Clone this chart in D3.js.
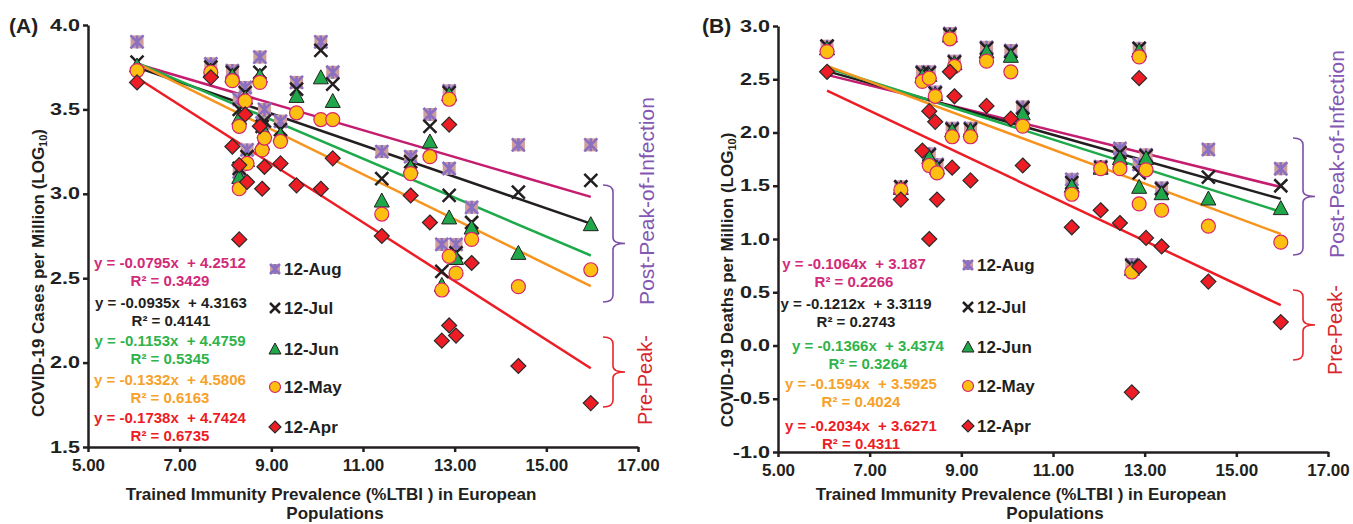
<!DOCTYPE html>
<html>
<head>
<meta charset="utf-8">
<script src="https://cdn.jsdelivr.net/npm/d3@7/dist/d3.min.js"></script>
<style>
  body { margin: 0; background: #fff; }
  svg { font-family: "Liberation Sans", Arial, sans-serif; }
  .pre { white-space: pre; }
</style>
</head>
<body>
<svg id="chart" width="1353" height="524"></svg>
<script>
// LTBI prevalence (x) for each country, same order in both panels
const ltbi = [6.07, 7.68, 8.15, 8.30, 8.30, 8.43, 8.47, 8.75, 8.80, 8.85, 9.20, 9.55,
              10.08, 10.34, 11.41, 12.04, 12.46, 12.72, 12.88, 12.88, 13.03, 13.37, 14.39, 15.97];

const months = ["12-Aug", "12-Jul", "12-Jun", "12-May", "12-Apr"];

// (A) cases per million, log10
const casesAug = [3.90,3.77,3.73,3.56,3.13,3.63,3.26,3.81,3.42,3.50,3.43,3.66,3.90,3.72,3.25,3.22,3.47,2.70,3.61,3.15,2.70,2.92,3.29,3.29];
const casesJul = [3.78,3.75,3.72,3.50,3.15,3.60,3.22,3.72,3.40,3.43,3.38,3.62,3.85,3.65,3.09,3.19,3.40,2.54,3.60,2.99,2.65,2.83,3.01,3.08];
const casesJun = [3.76,3.73,3.70,3.45,3.10,3.57,3.20,3.70,3.30,3.37,3.35,3.58,3.69,3.55,2.96,3.16,3.31,2.46,3.59,2.86,2.62,2.80,2.65,2.82];
const casesMay = [3.73,3.72,3.67,3.40,3.03,3.55,3.18,3.66,3.26,3.33,3.31,3.48,3.44,3.44,2.88,3.12,3.22,2.43,3.56,2.63,2.53,2.73,2.45,2.55];
const casesApr = [3.66,3.69,3.28,3.17,2.73,3.47,3.07,3.40,3.03,3.16,3.18,3.05,3.03,3.21,2.75,2.99,2.83,2.13,3.41,2.22,2.16,2.59,1.98,1.76];

// (B) deaths per million, log10
const deathsAug = [2.81,1.49,2.57,2.57,1.80,2.38,1.70,2.93,2.04,2.67,2.04,2.80,2.77,2.24,1.56,1.68,1.85,0.76,2.79,1.70,1.79,1.48,1.84,1.66];
const deathsJul = [2.81,1.49,2.56,2.56,1.79,2.37,1.69,2.92,2.03,2.66,2.03,2.79,2.76,2.23,1.53,1.67,1.81,0.75,2.79,1.62,1.78,1.47,1.58,1.50];
const deathsJun = [2.79,1.48,2.53,2.54,1.77,2.36,1.67,2.91,2.02,2.65,2.02,2.76,2.72,2.18,1.50,1.67,1.76,0.72,2.77,1.49,1.76,1.43,1.38,1.29];
const deathsMay = [2.76,1.46,2.48,2.51,1.69,2.34,1.62,2.88,1.96,2.62,1.96,2.67,2.57,2.06,1.42,1.66,1.66,0.69,2.71,1.33,1.65,1.27,1.12,0.97];
const deathsApr = [2.57,1.37,1.83,2.20,1.00,2.10,1.37,2.57,1.67,2.34,1.55,2.25,2.13,1.69,1.11,1.27,1.15,-0.44,2.51,0.74,1.01,0.93,0.60,0.22];

// linear trendlines as printed on the chart
const slopesA = [-0.0795, -0.0935, -0.1153, -0.1332, -0.1738];
const interceptsA = [4.2512, 4.3163, 4.4759, 4.5806, 4.7424];
const r2A = [0.3429, 0.4141, 0.5345, 0.6163, 0.6735];
const slopesB = [-0.1064, -0.1212, -0.1366, -0.1594, -0.2034];
const interceptsB = [3.187, 3.3119, 3.4374, 3.5925, 3.6271];
const r2B = [0.2266, 0.2743, 0.3264, 0.4024, 0.4311];

const xTicks = [5, 7, 9, 11, 13, 15, 17];
const yTicksA = [1.5, 2.0, 2.5, 3.0, 3.5, 4.0];
const yTicksB = [-1.0, -0.5, 0.0, 0.5, 1.0, 1.5, 2.0, 2.5, 3.0];

const lineColors = ["#c41d6f", "#231f20", "#1eaa4b", "#f7941d", "#ee1c25"];
const textColors = ["#d12a78", "#231f20", "#2fb34a", "#f7a12a", "#ed1c24"];
const markerTypes = ["star", "cross", "tri", "circle", "diamond"];

const svg = d3.select("#chart");

function drawMarker(g, type, cx, cy, s) {
  const h = s / 2;
  if (type == "star") {
    g.append("rect").attr("x", cx - h).attr("y", cy - h).attr("width", s).attr("height", s)
      .attr("fill", "#cf9d9b");
    const path = `M${cx-h},${cy-h}L${cx+h},${cy+h}M${cx+h},${cy-h}L${cx-h},${cy+h}M${cx},${cy-h}L${cx},${cy+h}`;
    g.append("path").attr("d", path).attr("stroke", "#8a70c2").attr("stroke-width", 2.6).attr("fill", "none");
  } else if (type == "cross") {
    const path = `M${cx-h},${cy-h}L${cx+h},${cy+h}M${cx+h},${cy-h}L${cx-h},${cy+h}`;
    g.append("path").attr("d", path).attr("stroke", "#231f20").attr("stroke-width", 2.5).attr("fill", "none");
  } else if (type == "tri") {
    const path = `M${cx},${cy-h-1}L${cx+h+1},${cy+h}L${cx-h-1},${cy+h}Z`;
    g.append("path").attr("d", path).attr("fill", "#1fa74a").attr("stroke", "#231f20").attr("stroke-width", 1);
  } else if (type == "circle") {
    g.append("circle").attr("cx", cx).attr("cy", cy).attr("r", h + 0.5)
      .attr("fill", "#fdc010").attr("stroke", "#d6246e").attr("stroke-width", 1.2);
  } else {
    const path = `M${cx},${cy-h-1}L${cx+h+1},${cy}L${cx},${cy+h+1}L${cx-h-1},${cy}Z`;
    g.append("path").attr("d", path).attr("fill", "#ee1c25").attr("stroke", "#2b2b2b").attr("stroke-width", 1.2);
  }
}

function brace(x0, y0, y1) {
  const xm = x0 + 10, xt = x0 + 22, mid = (y0 + y1) / 2;
  return `M${x0},${y0}Q${xm},${y0} ${xm},${y0+7}L${xm},${mid-6}Q${xm},${mid} ${xt},${mid}` +
         `Q${xm},${mid} ${xm},${mid+6}L${xm},${y1-7}Q${xm},${y1} ${x0},${y1}`;
}

function panel(opt) {
  const x = d3.scaleLinear().domain([5, 17]).range(opt.xRange);
  const y = d3.scaleLinear().domain(opt.yDomain).range(opt.yRange);
  const g = svg.append("g");

  // axes
  const ya = g.append("g").attr("transform", `translate(${opt.xRange[0]},0)`)
    .call(d3.axisLeft(y).tickValues(opt.yTicks).tickSize(5).tickSizeOuter(0).tickFormat(d => d.toFixed(1)));
  ya.selectAll("text").attr("x", 0)
    .attr("transform", "translate(-8,0) scale(1.35,1)")
    .style("font-size", "16px").style("font-weight", "bold").attr("fill", "#231f20");
  const xa = g.append("g").attr("transform", `translate(0,${opt.yRange[0]})`)
    .call(d3.axisBottom(x).tickValues(xTicks).tickSize(5).tickSizeOuter(0).tickFormat(d => d.toFixed(2)));
  xa.selectAll("text").attr("y", 12)
    .style("font-size", "17px").style("font-weight", "bold").attr("fill", "#231f20");
  g.selectAll(".domain, .tick line").attr("stroke", "#231f20").attr("stroke-width", 2.5);

  // trendlines
  const xmin = d3.min(ltbi), xmax = d3.max(ltbi);
  opt.slopes.forEach((m, i) => {
    g.append("line")
      .attr("x1", x(xmin)).attr("y1", y(m * xmin + opt.intercepts[i]))
      .attr("x2", x(xmax)).attr("y2", y(m * xmax + opt.intercepts[i]))
      .attr("stroke", lineColors[i]).attr("stroke-width", 2.5);
  });

  // points
  opt.series.forEach((vals, i) => {
    const sg = g.append("g");
    vals.forEach((v, j) => drawMarker(sg, markerTypes[i], x(ltbi[j]), y(v), 13));
  });

  // equations
  opt.slopes.forEach((m, i) => {
    g.append("text").attr("class", "pre")
      .attr("x", opt.eqX[i]).attr("y", opt.eqY[i]).attr("text-anchor", "middle")
      .attr("dominant-baseline", "central")
      .style("font-size", "15px").style("font-weight", "bold").attr("fill", textColors[i])
      .text(`y = ${m}x  + ${opt.intercepts[i]}`);
    g.append("text")
      .attr("x", opt.eqX[i]).attr("y", opt.eqY[i] + 18).attr("text-anchor", "middle")
      .attr("dominant-baseline", "central")
      .style("font-size", "15px").style("font-weight", "bold").attr("fill", textColors[i])
      .text(`R² = ${opt.r2[i].toFixed(4)}`);
  });

  // legend
  months.forEach((mo, i) => {
    drawMarker(g, markerTypes[i], opt.legX, opt.legY[i], 10);
    g.append("text").attr("x", opt.legX + 9).attr("y", opt.legY[i])
      .attr("dominant-baseline", "central")
      .style("font-size", "17px").style("font-weight", "bold").attr("fill", "#231f20")
      .text(mo);
  });

  // brackets
  g.append("path").attr("d", brace(opt.braceX, opt.post[0], opt.post[1]))
    .attr("fill", "none").attr("stroke", "#7d4fa6").attr("stroke-width", 1.6);
  g.append("path").attr("d", brace(opt.braceX, opt.pre[0], opt.pre[1]))
    .attr("fill", "none").attr("stroke", "#e8262d").attr("stroke-width", 1.6);
  g.append("text").attr("transform", `translate(${opt.braceX + 43},${opt.postTextY}) rotate(-90)`)
    .attr("text-anchor", "middle").attr("dominant-baseline", "central")
    .style("font-size", "21px").attr("fill", "#8457b3").text("Post-Peak-of-Infection");
  g.append("text").attr("transform", `translate(${opt.braceX + 42},${opt.preTextY}) rotate(-90)`)
    .attr("text-anchor", "middle").attr("dominant-baseline", "central")
    .style("font-size", "20px").attr("fill", "#d7262e").text("Pre-Peak-");

  // titles
  g.append("text").attr("x", opt.panelX).attr("y", 33)
    .style("font-size", "21px").style("font-weight", "bold").attr("fill", "#231f20").text(opt.label);
  const yt = g.append("text").attr("transform", `translate(${opt.yTitleX},${opt.yTitleY}) rotate(-90)`)
    .attr("text-anchor", "middle").attr("dominant-baseline", "central")
    .style("font-size", "17px").style("font-weight", "bold").attr("fill", "#231f20");
  yt.append("tspan").text(opt.yTitle + " (LOG");
  yt.append("tspan").attr("dy", 5).style("font-size", "11px").text("10");
  yt.append("tspan").attr("dy", -5).text(")");
  g.append("text").attr("x", opt.xTitleX[0]).attr("y", 500).attr("text-anchor", "middle")
    .style("font-size", "17px").style("font-weight", "bold").attr("fill", "#231f20")
    .text("Trained Immunity Prevalence (%LTBI ) in European");
  g.append("text").attr("x", opt.xTitleX[1]).attr("y", 519).attr("text-anchor", "middle")
    .style("font-size", "17px").style("font-weight", "bold").attr("fill", "#231f20")
    .text("Populations");
}

panel({
  label: "(A)", panelX: 9,
  xRange: [88, 638], yDomain: [1.5, 4.0], yRange: [447, 25], yTicks: yTicksA,
  series: [casesAug, casesJul, casesJun, casesMay, casesApr],
  slopes: slopesA, intercepts: interceptsA, r2: r2A,
  eqX: [170, 171, 170, 170, 170], eqY: [262, 302, 340, 379, 417],
  legX: 275, legY: [269, 308, 349, 387, 427],
  braceX: 603, post: [185, 302], pre: [337, 407], postTextY: 201, preTextY: 380,
  yTitle: "COVID-19 Cases per Million", yTitleX: 38, yTitleY: 273,
  xTitleX: [331, 335]
});

panel({
  label: "(B)", panelX: 702,
  xRange: [778, 1328], yDomain: [-1.0, 3.0], yRange: [452, 26], yTicks: yTicksB,
  series: [deathsAug, deathsJul, deathsJun, deathsMay, deathsApr],
  slopes: slopesB, intercepts: interceptsB, r2: r2B,
  eqX: [854, 856, 868, 861, 861], eqY: [263, 303, 345, 383, 425],
  legX: 968, legY: [265, 307, 347, 386, 426],
  braceX: 1293, post: [138, 255], pre: [290, 360], postTextY: 154, preTextY: 330,
  yTitle: "COVID-19 Deaths per Million", yTitleX: 727, yTitleY: 280,
  xTitleX: [1021, 1055]
});
</script>
</body>
</html>
